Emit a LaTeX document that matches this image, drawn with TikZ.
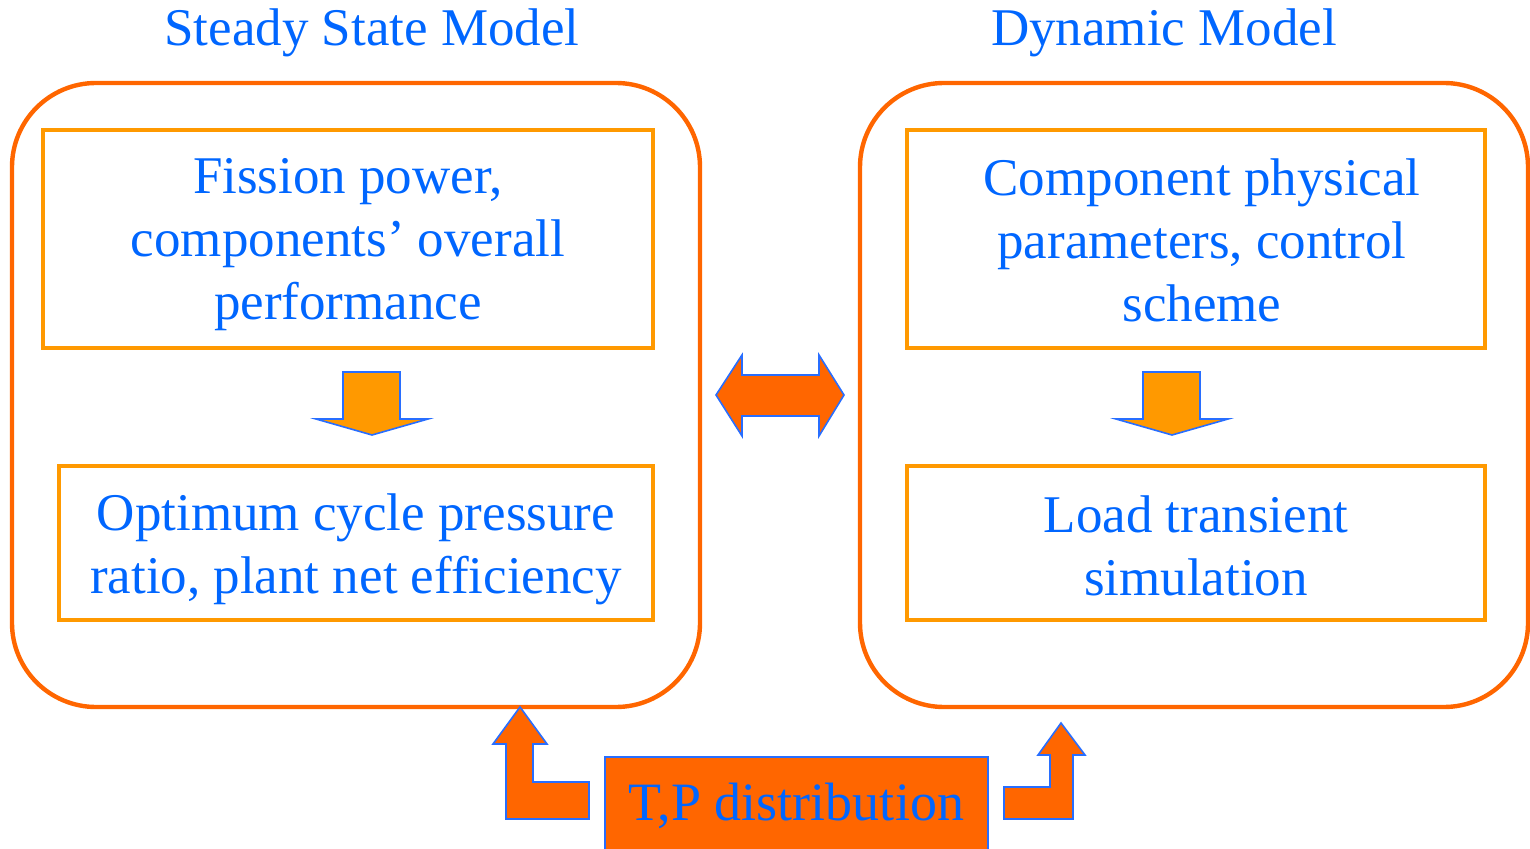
\documentclass[tikz,border=0pt]{standalone}
\usepackage{fontspec}
\setmainfont{Liberation Serif}
\definecolor{txtblue}{RGB}{0,102,255}
\definecolor{lineblue}{RGB}{40,110,255}
\definecolor{darkorange}{RGB}{255,102,0}
\definecolor{lightorange}{RGB}{255,153,0}
\begin{document}
\begin{tikzpicture}[x=0.5pt,y=-0.5pt,
  outerbox/.style={draw=darkorange,line width=2.2pt,rounded corners=42pt},
  innerbox/.style={draw=lightorange,line width=1.6pt},
  label/.style={text=txtblue,align=center,font=\fontsize{26.5}{31.5}\selectfont},
  blockarrow/.style={draw=lineblue,line width=0.8pt,line join=miter}]
\useasboundingbox (0,0) rectangle (1530,849);
% model frames
\node[outerbox,minimum width=344pt,minimum height=312pt] (ss) at (356,395) {};
\node[outerbox,minimum width=334pt,minimum height=312pt] (dyn) at (1194,395) {};
\node[label] (sstitle) at (372,33) {Steady State Model};
\node[label] (dyntitle) at (1164,33) {Dynamic Model};
% steady state side
\node[innerbox,minimum width=305pt,minimum height=109pt] (fission) at (348,239) {};
\node[label] at (348,245) {Fission power,\\components’ overall\\performance};
\node[innerbox,minimum width=297pt,minimum height=77pt] (optimum) at (356,543) {};
\node[label] at (356,549) {Optimum cycle pressure\\ratio, plant net efficiency};
% dynamic side
\node[innerbox,minimum width=289pt,minimum height=109pt] (compo) at (1196,239) {};
\node[label] at (1202,240) {Component physical\\parameters, control\\scheme};
\node[innerbox,minimum width=289pt,minimum height=77pt] (load) at (1196,543) {};
\node[label] at (1196,546) {Load transient\\simulation};
% down arrows
\foreach \dx in {0,800}
  \draw[blockarrow,fill=lightorange,xshift=\dx*0.5pt] (343,372) -- (400,372) -- (400,419) -- (428,419)
    -- (372,435) -- (316,419) -- (343,419) -- cycle;
% two-way arrow between the models
\draw[blockarrow,fill=darkorange] (716,395) -- (742,355) -- (742,375) -- (819,375) -- (819,355)
  -- (844,395) -- (819,436) -- (819,416) -- (742,416) -- (742,436) -- cycle;
% T,P distribution box and bent arrows
\node[draw=lineblue,fill=darkorange,line width=0.8pt,minimum width=191.5pt,minimum height=49pt,
  text=txtblue,font=\fontsize{27}{32}\selectfont] (tp) at (796.5,806) {T,P distribution};
\draw[blockarrow,fill=darkorange] (520,707) -- (547,744) -- (533,744) -- (533,782) -- (589,782)
  -- (589,819) -- (506,819) -- (506,744) -- (493,744) -- cycle;
\draw[blockarrow,fill=darkorange] (1061,723) -- (1085,755) -- (1073,755) -- (1073,819) -- (1004,819)
  -- (1004,787) -- (1050,787) -- (1050,755) -- (1038,755) -- cycle;
\end{tikzpicture}
\end{document}
